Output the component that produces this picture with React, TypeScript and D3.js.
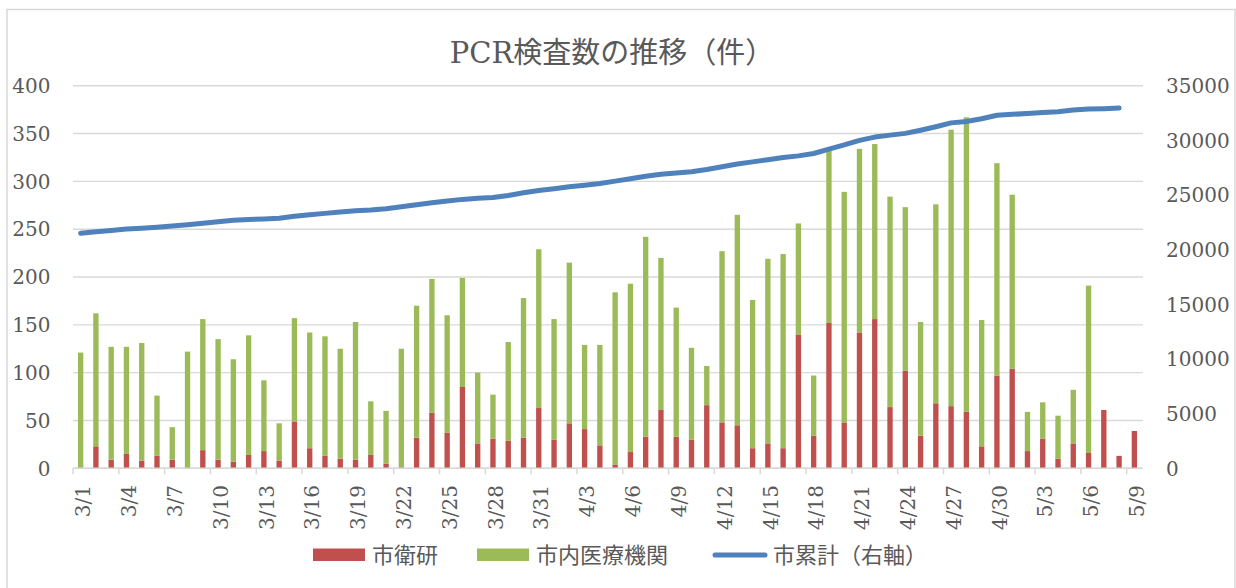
import { useEffect, useRef } from 'react';
import * as d3 from 'd3';

// categories (3/1 - 5/9)
const dates = [
  '3/1', '3/2', '3/3', '3/4', '3/5', '3/6', '3/7', '3/8', '3/9', '3/10',
  '3/11', '3/12', '3/13', '3/14', '3/15', '3/16', '3/17', '3/18', '3/19', '3/20',
  '3/21', '3/22', '3/23', '3/24', '3/25', '3/26', '3/27', '3/28', '3/29', '3/30',
  '3/31', '4/1', '4/2', '4/3', '4/4', '4/5', '4/6', '4/7', '4/8', '4/9',
  '4/10', '4/11', '4/12', '4/13', '4/14', '4/15', '4/16', '4/17', '4/18', '4/19',
  '4/20', '4/21', '4/22', '4/23', '4/24', '4/25', '4/26', '4/27', '4/28', '4/29',
  '4/30', '5/1', '5/2', '5/3', '5/4', '5/5', '5/6', '5/7', '5/8', '5/9',
];

// 市衛研 (red, bottom of stack)
const eiken = [
  0, 23, 9, 15, 8, 13, 9, 0, 19, 9,
  7, 14, 18, 8, 49, 21, 13, 10, 9, 14,
  5, 1, 32, 58, 37, 85, 26, 31, 29, 32,
  63, 30, 47, 41, 24, 4, 17, 33, 61, 33,
  30, 66, 48, 45, 21, 26, 21, 140, 34, 152,
  48, 142, 156, 64, 102, 34, 68, 65, 59, 23,
  97, 104, 18, 31, 10, 26, 16, 61, 13, 39,
];

// 市内医療機関 (green, stacked on top)
const iryou = [
  121, 139, 118, 112, 123, 63, 34, 122, 137, 126,
  107, 125, 74, 39, 108, 121, 125, 115, 144, 56,
  55, 124, 138, 140, 123, 114, 74, 46, 103, 146,
  166, 126, 168, 88, 105, 180, 176, 209, 159, 135,
  96, 41, 179, 220, 155, 193, 203, 116, 63, 180,
  241, 192, 183, 220, 171, 119, 208, 289, 308, 132,
  222, 182, 41, 38, 45, 56, 175, 0, 0, 0,
];

// 市累計 (right axis)
const ruikei: (number | null)[] = [
  21500, 21630, 21760, 21890, 21970, 22050, 22160, 22280, 22410, 22560,
  22700, 22760, 22810, 22880, 23050, 23190, 23320, 23450, 23550, 23630,
  23750, 23920, 24100, 24290, 24450, 24600, 24700, 24780, 24960, 25200,
  25420, 25580, 25760, 25900, 26050, 26270, 26480, 26720, 26900, 27020,
  27130, 27330, 27580, 27830, 28030, 28230, 28440, 28580, 28800, 29200,
  29580, 30000, 30300, 30480, 30640, 30930, 31250, 31600, 31720, 31980,
  32300, 32380, 32460, 32540, 32620, 32770, 32870, 32900, 32950, null,
];

const leftTicks = [0, 50, 100, 150, 200, 250, 300, 350, 400];
const rightTicks = [0, 5000, 10000, 15000, 20000, 25000, 30000, 35000];

const W = 1236;
const H = 588;
const RED = '#C0504D';
const GREEN = '#9BBB59';
const BLUE = '#4F81BD';
const TXT = '#595959';
const GRID = '#d9d9d9';
const SERIF = '"DejaVu Serif", "Noto Sans CJK JP", serif';
const SANS = '"Noto Sans CJK JP", "Noto Sans", sans-serif';

export default function App() {
  const svgRef = useRef<SVGSVGElement | null>(null);

  useEffect(() => {
    if (!svgRef.current) return;
    const svg = d3.select(svgRef.current);
    svg.selectAll('*').remove();

    const left = 73, right = 1142, top = 85.7, bottom = 468.3;

    const x = d3.scaleBand<string>()
      .domain(dates)
      .range([left, right])
      .paddingInner(0.65)
      .paddingOuter(0.325);
    const step = x.step();

    const yL = d3.scaleLinear().domain([0, 400]).range([bottom, top]);
    const yR = d3.scaleLinear().domain([0, 35000]).range([bottom, top]);

    // chart border
    svg.append('rect')
      .attr('x', 7).attr('y', 9.5)
      .attr('width', 1228).attr('height', 620)
      .attr('fill', 'white')
      .attr('stroke', GRID)
      .attr('stroke-width', 1.5);

    // title
    svg.append('text')
      .attr('x', 612).attr('y', 63)
      .attr('text-anchor', 'middle')
      .attr('font-family', SERIF)
      .attr('font-size', 29)
      .attr('fill', TXT)
      .text('PCR検査数の推移（件）');

    // gridlines
    svg.append('g')
      .selectAll('line')
      .data(leftTicks)
      .join('line')
      .attr('x1', left).attr('x2', right + 1)
      .attr('y1', d => yL(d)).attr('y2', d => yL(d))
      .attr('stroke', GRID)
      .attr('stroke-width', 1.4);

    // left labels
    svg.append('g')
      .selectAll('text')
      .data(leftTicks)
      .join('text')
      .attr('x', 50.5)
      .attr('y', d => yL(d))
      .attr('dy', '0.36em')
      .attr('text-anchor', 'end')
      .attr('font-family', SERIF)
      .attr('font-size', 20)
      .attr('fill', TXT)
      .text(d => d);

    // right labels
    svg.append('g')
      .selectAll('text')
      .data(rightTicks)
      .join('text')
      .attr('x', 1166)
      .attr('y', d => yR(d))
      .attr('dy', '0.36em')
      .attr('text-anchor', 'start')
      .attr('font-family', SERIF)
      .attr('font-size', 20)
      .attr('fill', TXT)
      .text(d => d);

    // stacked bars
    const rows = dates.map((d, i) => ({ date: d, eiken: eiken[i], iryou: iryou[i] }));
    const stack = d3.stack<any>().keys(['eiken', 'iryou'])(rows);
    const colors = [RED, GREEN];
    stack.forEach((layer, li) => {
      svg.append('g')
        .selectAll('rect')
        .data(layer)
        .join('rect')
        .attr('x', d => x(d.data.date) as number)
        .attr('width', x.bandwidth())
        .attr('y', d => yL(d[1]))
        .attr('height', d => Math.max(0, yL(d[0]) - yL(d[1])))
        .attr('fill', colors[li]);
    });

    // x axis line + ticks
    svg.append('line')
      .attr('x1', left).attr('x2', right)
      .attr('y1', bottom).attr('y2', bottom)
      .attr('stroke', GRID)
      .attr('stroke-width', 1.5);

    const tickDates = dates.filter((_, i) => i % 3 === 0);
    svg.append('g')
      .selectAll('line')
      .data(tickDates)
      .join('line')
      .attr('x1', d => (x(d) as number) - x.bandwidth() / 2 - (step - x.bandwidth()) / 2 + x.bandwidth() / 2)
      .attr('x2', d => (x(d) as number) - x.bandwidth() / 2 - (step - x.bandwidth()) / 2 + x.bandwidth() / 2)
      .attr('y1', bottom).attr('y2', bottom + 6)
      .attr('stroke', GRID)
      .attr('stroke-width', 1.5);

    // x labels
    svg.append('g')
      .selectAll('text')
      .data(tickDates)
      .join('text')
      .attr('transform', d => {
        const cx = (x(d) as number) + x.bandwidth() / 2 + 2.5;
        return `translate(${cx},485) rotate(-90)`;
      })
      .attr('dy', '0.36em')
      .attr('text-anchor', 'end')
      .attr('font-family', SERIF)
      .attr('font-size', 20)
      .attr('fill', TXT)
      .text(d => d);

    // cumulative line
    const line = d3.line<number | null>()
      .defined(d => d != null)
      .x((_, i) => (x(dates[i]) as number) + x.bandwidth() / 2)
      .y(d => yR(d as number));
    svg.append('path')
      .datum(ruikei)
      .attr('fill', 'none')
      .attr('stroke', BLUE)
      .attr('stroke-width', 5)
      .attr('stroke-linecap', 'round')
      .attr('stroke-linejoin', 'round')
      .attr('d', line);

    // legend
    const lg = svg.append('g').attr('font-family', SANS).attr('font-size', 22).attr('fill', TXT);
    lg.append('rect').attr('x', 313).attr('y', 548.5).attr('width', 52).attr('height', 12.5).attr('fill', RED);
    lg.append('text').attr('x', 372).attr('y', 563).text('市衛研');
    lg.append('rect').attr('x', 477).attr('y', 548.5).attr('width', 52).attr('height', 12.5).attr('fill', GREEN);
    lg.append('text').attr('x', 536).attr('y', 563).text('市内医療機関');
    lg.append('line')
      .attr('x1', 715).attr('x2', 765)
      .attr('y1', 555).attr('y2', 555)
      .attr('stroke', BLUE).attr('stroke-width', 5).attr('stroke-linecap', 'round');
    lg.append('text').attr('x', 773).attr('y', 563).text('市累計（右軸）');
  }, []);

  return (
    <svg
      ref={svgRef}
      width={W}
      height={H}
      style={{ position: 'absolute', left: 0, top: 0, background: 'white' }}
    />
  );
}
